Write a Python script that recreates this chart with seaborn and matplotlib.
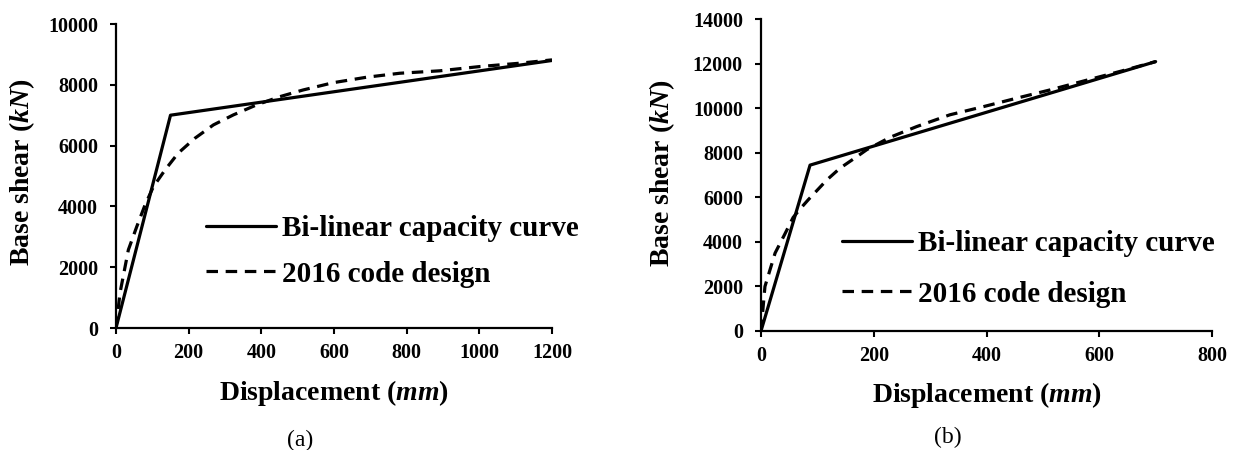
import numpy as np
import pandas as pd
import matplotlib
matplotlib.use("Agg")
import matplotlib.pyplot as plt
import seaborn as sns

# ---- data ----
curve_labels = ["Bi-linear capacity curve", "2016 code design"]

bilin_a_x = [0, 150, 1200]
bilin_a_y = [0, 7000, 8800]
code_a_x = [0, 11, 34, 57, 80, 103, 135, 171, 217, 268, 323, 387, 451, 515, 598, 690, 781, 891, 1001, 1111, 1200]
code_a_y = [0, 1150, 2570, 3330, 4050, 4650, 5200, 5750, 6240, 6680, 7010, 7340, 7610, 7830, 8070, 8250, 8380, 8460, 8600, 8710, 8820]

bilin_b_x = [0, 87, 700]
bilin_b_y = [0, 7450, 12100]
code_b_x = [0, 7, 25, 43, 57, 70, 84, 117, 140, 170, 188, 229, 276, 335, 395, 454, 513, 580, 640, 700]
code_b_y = [0, 2000, 3500, 4390, 5100, 5500, 5900, 6790, 7310, 7830, 8150, 8700, 9180, 9710, 10080, 10460, 10830, 11280, 11680, 12100]

xticks_a = [0, 200, 400, 600, 800, 1000, 1200]
yticks_a = [0, 2000, 4000, 6000, 8000, 10000]
xticks_b = [0, 200, 400, 600, 800]
yticks_b = [0, 2000, 4000, 6000, 8000, 10000, 12000, 14000]

x_label = "Displacement ($mm$)"
y_label = "Base shear ($kN$)"
captions = ["(a)", "(b)"]

# ---- style ----
sns.set_style("ticks")
plt.rcParams['font.family'] = ['Liberation Serif', 'DejaVu Serif']
plt.rcParams['font.weight'] = 'bold'
plt.rcParams['axes.labelweight'] = 'bold'
plt.rcParams['text.color'] = 'black'
plt.rcParams['axes.labelcolor'] = 'black'
plt.rcParams['xtick.color'] = 'black'
plt.rcParams['ytick.color'] = 'black'
plt.rcParams['mathtext.fontset'] = 'custom'
plt.rcParams['mathtext.it'] = 'Liberation Serif:italic:bold'
plt.rcParams['mathtext.rm'] = 'Liberation Serif:bold'
plt.rcParams['mathtext.bf'] = 'Liberation Serif:bold'

W, H = 1236, 450
fig = plt.figure(figsize=(W / 100, H / 100), dpi=100)
ax_a = fig.add_axes([116 / W, 1 - 328 / H, (552 - 116) / W, (328 - 24) / H])
ax_b = fig.add_axes([761 / W, 1 - 331 / H, (1212 - 761) / W, (331 - 19.3) / H])


def make_df(bx, by, cx, cy):
    return pd.concat([
        pd.DataFrame({"Displacement": bx, "Shear": by, "Curve": curve_labels[0]}),
        pd.DataFrame({"Displacement": cx, "Shear": cy, "Curve": curve_labels[1]}),
    ], ignore_index=True)


panels = [
    (ax_a, make_df(bilin_a_x, bilin_a_y, code_a_x, code_a_y), xticks_a, yticks_a,
     (206 / W, 1 - 251.5 / H), 0.62, (-0.216, 0.513), (0.5, -0.214)),
    (ax_b, make_df(bilin_b_x, bilin_b_y, code_b_x, code_b_y), xticks_b, yticks_b,
     (842 / W, 1 - 269 / H), 0.80, (-0.220, 0.507), (0.5, -0.205)),
]

for ax, df, xt, yt, leg_anchor, lspace, ylc, xlc in panels:
    sns.lineplot(data=df, x="Displacement", y="Shear", style="Curve",
                 style_order=curve_labels,
                 dashes={curve_labels[0]: "", curve_labels[1]: (3.6, 2.4)},
                 color="black", linewidth=2.3, sort=False, estimator=None,
                 legend=False, ax=ax)
    ax.set_xlim(xt[0], xt[-1])
    ax.set_ylim(yt[0], yt[-1])
    ax.set_xticks(xt)
    ax.set_yticks(yt)
    sns.despine(ax=ax)
    for s in ("left", "bottom"):
        ax.spines[s].set_linewidth(1.6)
        ax.spines[s].set_color("black")
    ax.tick_params(axis="both", direction="out", length=4, width=1.5,
                   colors="black", labelcolor="black", labelsize=14.5)
    ax.tick_params(axis="x", pad=7)
    ax.tick_params(axis="y", pad=9)
    for lab in ax.get_xticklabels() + ax.get_yticklabels():
        lab.set_fontweight("bold")
        lab.set_color("black")
    ax.set_xlabel(x_label, fontsize=20, fontweight="bold", color="black")
    ax.set_ylabel(y_label, fontsize=20, fontweight="bold", color="black")
    ax.xaxis.set_label_coords(*xlc)
    ax.yaxis.set_label_coords(*ylc)
    ax.xaxis.label.set_va("center")
    ax.yaxis.label.set_va("center")
    lines = ax.get_lines()[:2]
    leg = ax.legend(handles=lines, labels=curve_labels, loc="center left",
                    bbox_to_anchor=leg_anchor, bbox_transform=fig.transFigure,
                    frameon=False, handlelength=2.4, handletextpad=0.22,
                    borderpad=0, borderaxespad=0, labelspacing=lspace,
                    prop={"family": ["Liberation Serif"], "weight": "bold", "size": 21})
    for t in leg.get_texts():
        t.set_color("black")

fig.text(300 / W, 1 - 440 / H, captions[0], ha="center", va="center",
         fontsize=17, fontweight="normal", color="black")
fig.text(948 / W, 1 - 437 / H, captions[1], ha="center", va="center",
         fontsize=17, fontweight="normal", color="black")

fig.savefig("out.png", dpi=100)
